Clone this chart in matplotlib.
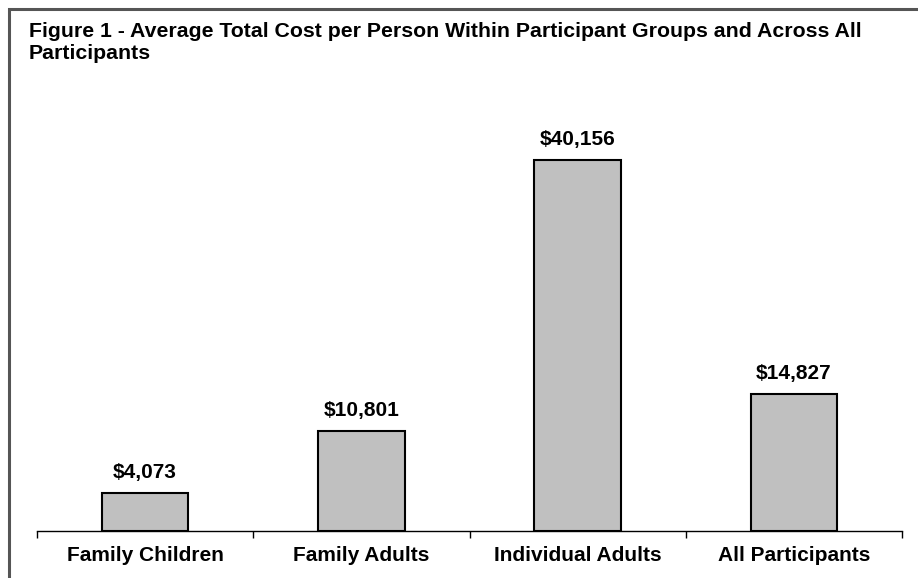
import matplotlib
matplotlib.use('Agg')
import matplotlib.pyplot as plt
from matplotlib.patches import Rectangle

plt.rcParams['font.family'] = ['Liberation Sans', 'DejaVu Sans']

groups = ['Family Children', 'Family Adults', 'Individual Adults', 'All Participants']
costs = [4073, 10801, 40156, 14827]
value_labels = ['$4,073', '$10,801', '$40,156', '$14,827']
title = 'Figure 1 - Average Total Cost per Person Within Participant Groups and Across All\nParticipants'

W, H = 918, 578
fig = plt.figure(figsize=(W / 100, H / 100), dpi=100)

# frame around the whole chart (left and top visible)
fig.patches.append(Rectangle((9 / W, -0.1), 1.2, 1 - 9 / H + 0.1, transform=fig.transFigure,
                             fill=False, edgecolor='#555555', linewidth=2.2))

ax = fig.add_axes([37 / W, 1 - 531 / H, (902 - 37) / W, 415.8 / H])
x = range(len(groups))
ax.bar(x, costs, width=0.4, color='#c0c0c0', edgecolor='black', linewidth=1.5)
for i, (v, lab) in enumerate(zip(costs, value_labels)):
    ax.annotate(lab, (i, v), xytext=(0, 8), textcoords='offset points',
                ha='center', va='bottom', fontsize=15, fontweight='bold')

ax.set_xlim(-0.5, 3.5)
ax.set_ylim(0, 45000)
for s in ['top', 'right', 'left']:
    ax.spines[s].set_visible(False)
ax.spines['bottom'].set_linewidth(1.0)
ax.set_yticks([])
ax.set_xticks([-0.5, 0.5, 1.5, 2.5, 3.5])
ax.set_xticklabels([])
ax.set_xticks(list(x), minor=True)
ax.set_xticklabels(groups, minor=True, fontsize=15, fontweight='bold')
ax.tick_params(axis='x', which='major', direction='out', length=5, width=1)
ax.tick_params(axis='x', which='minor', length=0, pad=11)
ax.patch.set_alpha(0)

fig.text(29 / W, 1 - 22 / H, title, ha='left', va='top', fontsize=15.3, fontweight='bold',
         linespacing=1.2)

fig.savefig('out.png', dpi=100)
